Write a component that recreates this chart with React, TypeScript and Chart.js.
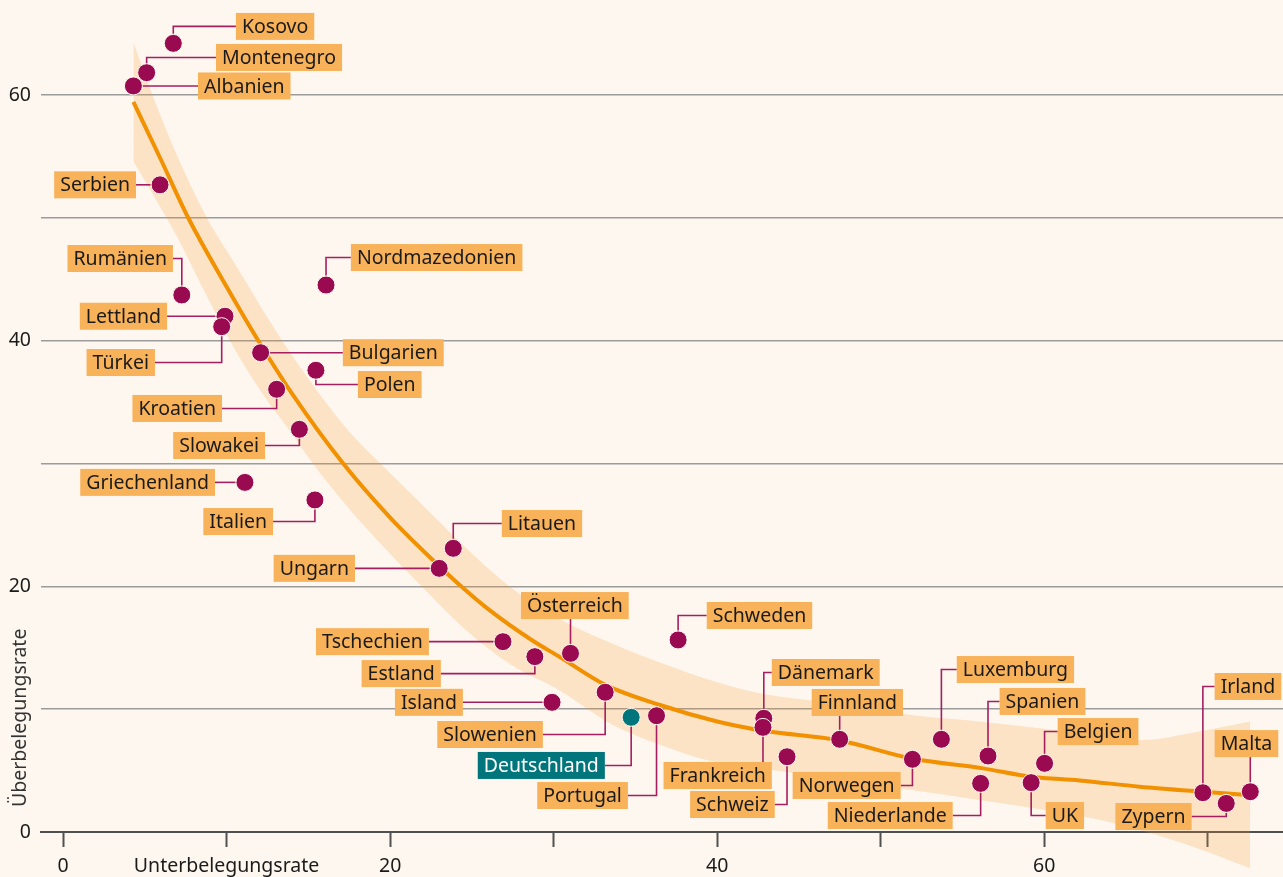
import React, { useEffect, useRef } from "react";
import { Chart, registerables } from "chart.js";

Chart.register(...registerables);

// ---------- data ----------
const COUNTRIES = [
  "Kosovo", "Montenegro", "Albanien", "Serbien", "Rumänien", "Nordmazedonien",
  "Lettland", "Türkei", "Bulgarien", "Polen", "Kroatien", "Slowakei",
  "Griechenland", "Italien", "Litauen", "Ungarn", "Österreich", "Tschechien",
  "Estland", "Island", "Slowenien", "Deutschland", "Portugal", "Schweden",
  "Dänemark", "Frankreich", "Schweiz", "Finnland", "Norwegen", "Luxemburg",
  "Spanien", "Niederlande", "Belgien", "UK", "Irland", "Zypern", "Malta",
];
// Unterbelegungsrate (x)
const UNDER = [
  6.74, 5.11, 4.3, 5.93, 7.26, 16.08,
  9.9, 9.7, 12.08, 15.46, 13.06, 14.45,
  11.12, 15.4, 23.86, 23.0, 31.03, 26.9,
  28.85, 29.9, 33.15, 34.74, 36.29, 37.61,
  42.85, 42.8, 44.27, 47.49, 51.94, 53.71,
  56.56, 56.11, 60.02, 59.2, 69.7, 71.13, 72.6,
];
// Überbelegungsrate (y)
const OVER = [
  64.22, 61.83, 60.75, 52.7, 43.73, 44.54,
  42.0, 41.15, 39.03, 37.6, 36.05, 32.79,
  28.47, 27.04, 23.1, 21.47, 14.55, 15.5,
  14.28, 10.56, 11.38, 9.34, 9.47, 15.64,
  9.26, 8.52, 6.13, 7.55, 5.92, 7.55,
  6.19, 3.96, 5.59, 4.02, 3.2, 2.33, 3.28,
];
const HIGHLIGHT = "Deutschland";

// fitted trend
const TREND_X = [4.3, 6, 7.66, 10, 11.94, 14, 17.13, 20, 23.04, 24.27, 26, 28.75, 30.38, 33.13, 36.5, 40, 42.85, 47.5, 51.9, 56.25, 59.2, 62.16, 65.83, 69.7, 72.6];
const TREND_Y = [59.45, 54.7, 50.0, 44.4, 40.0, 35.7, 30.0, 25.6, 21.6, 20.1, 18.15, 15.55, 14.25, 12.0, 10.34, 9.0, 8.24, 7.45, 5.98, 5.18, 4.5, 4.2, 3.69, 3.28, 3.0];

// confidence band
const BAND_X = [4.3, 5.5, 7, 8.8, 10.5, 12.5, 13.4, 15.5, 17.5, 19.4, 22, 24.5, 27.3, 30.4, 33.5, 36.5, 39.5, 42.6, 45.8, 48.7, 52, 56, 60, 63, 66, 69.3, 72.6];
const BAND_UPPER = [64.3, 59.9, 55.0, 50.0, 46.3, 41.9, 40.0, 36.0, 32.6, 30.0, 26.6, 23.3, 20.0, 17.3, 15.4, 13.8, 12.4, 11.3, 10.7, 10.2, 9.5, 9.0, 8.4, 7.9, 7.5, 8.15, 9.0];
const BAND_LOWER = [54.6, 51.9, 48.4, 43.6, 39.3, 35.1, 33.5, 29.6, 26.3, 23.5, 19.9, 16.6, 13.7, 11.5, 8.8, 7.1, 5.8, 5.2, 4.6, 4.0, 3.4, 2.6, 1.8, 1.1, 0.1, -1.3, -2.96];

// tick labels
const X_TICK_LABELS: Record<number, string> = { 0: "0", 10: "Unterbelegungsrate", 20: "20", 40: "40", 60: "60" };
const Y_TICK_LABELS: Record<number, string> = { 0: "0", 20: "20", 40: "40", 60: "60" };
const Y_TITLE = "Überbelegungsrate";

// ---------- layout (label anchors in data units) ----------
// [x of box edge nearest to the dot, y of box centre, which box edge sits at x]
const LABEL_LAYOUT: Record<string, [number, number, "L" | "R"]> = {
  Kosovo: [10.57, 65.6, "L"],
  Montenegro: [9.35, 63.07, "L"],
  Albanien: [8.25, 60.75, "L"],
  Serbien: [4.46, 52.7, "R"],
  "Rumänien": [6.72, 46.7, "R"],
  Nordmazedonien: [17.6, 46.78, "L"],
  Lettland: [6.36, 42.0, "R"],
  "Türkei": [5.62, 38.23, "R"],
  Bulgarien: [17.11, 39.03, "L"],
  Polen: [18.03, 36.44, "L"],
  Kroatien: [9.72, 34.49, "R"],
  Slowakei: [12.35, 31.47, "R"],
  Griechenland: [9.29, 28.47, "R"],
  Italien: [12.84, 25.28, "R"],
  Litauen: [26.83, 25.12, "L"],
  Ungarn: [17.85, 21.47, "R"],
  "Österreich": [28.0, 18.44, "L"],
  Tschechien: [22.37, 15.5, "R"],
  Estland: [23.1, 12.9, "R"],
  Island: [24.45, 10.56, "R"],
  Slowenien: [29.34, 7.94, "R"],
  Deutschland: [33.13, 5.42, "R"],
  Portugal: [34.54, 2.97, "R"],
  Schweden: [39.36, 17.63, "L"],
  "Dänemark": [43.34, 12.99, "L"],
  Frankreich: [43.34, 4.6, "R"],
  Schweiz: [43.52, 2.24, "R"],
  Finnland: [45.78, 10.55, "L"],
  Norwegen: [51.22, 3.79, "R"],
  Luxemburg: [54.65, 13.23, "L"],
  Spanien: [57.27, 10.63, "L"],
  Niederlande: [54.4, 1.34, "R"],
  Belgien: [60.82, 8.18, "L"],
  UK: [60.09, 1.34, "L"],
  Irland: [70.42, 11.85, "L"],
  Zypern: [69.01, 1.26, "R"],
  Malta: [70.42, 7.2, "L"],
};
const Y_TITLE_AT = 9.3;

// ---------- styles ----------
const W = 1283;
const H = 877;
const FONT = "'Noto Sans', 'Open Sans', sans-serif";
const FONT_SIZE = 19.5;
const BG = "#fef7f0";
const DOT = "#990a50";
const DOT_HL = "#00767c";
const BOX = "#f8b25a";
const CONNECTOR = "#a51f60";
const TEXT = "#1a1a1a";
const LINE = "#f29100";
const BAND = "rgba(249,152,30,0.2)";
const GRID = "#9b9b9b";
const AXIS = "#505050";
const DOT_R = 9;
const BOX_H = 27;
const BOX_PAD = 6;

const bgPlugin = {
  id: "bgFill",
  beforeDraw(chart: any) {
    const { ctx } = chart;
    ctx.save();
    ctx.fillStyle = BG;
    ctx.fillRect(0, 0, chart.width, chart.height);
    ctx.restore();
  },
};

const labelPlugin = {
  id: "countryLabels",
  afterDatasetsDraw(chart: any) {
    const { ctx } = chart;
    const xs = chart.scales.x;
    const ys = chart.scales.y;
    const R = DOT_R + 0.5;
    ctx.save();
    ctx.font = `${FONT_SIZE}px ${FONT}`;
    COUNTRIES.forEach((name, i) => {
      const lay = LABEL_LAYOUT[name];
      if (!lay) return;
      const px = xs.getPixelForValue(UNDER[i]);
      const py = ys.getPixelForValue(OVER[i]);
      const tw = ctx.measureText(name).width;
      const bw = tw + 2 * BOX_PAD;
      const ax = xs.getPixelForValue(lay[0]);
      const ay = ys.getPixelForValue(lay[1]);
      const left = lay[2] === "L" ? ax : ax - bw;
      const right = left + bw;
      const top = ay - BOX_H / 2;
      const bottom = ay + BOX_H / 2;

      ctx.strokeStyle = CONNECTOR;
      ctx.lineWidth = 1.6;
      ctx.beginPath();
      if (px >= left && px <= right) {
        const above = ay < py;
        ctx.moveTo(px, above ? py - R : py + R);
        ctx.lineTo(px, above ? bottom : top);
      } else {
        const edgeX = px < left ? left : right;
        const dir = px < left ? 1 : -1;
        if (Math.abs(ay - py) < 4) {
          ctx.moveTo(px + dir * R, py);
          ctx.lineTo(edgeX, py);
        } else {
          const above = ay < py;
          ctx.moveTo(px, above ? py - R : py + R);
          ctx.lineTo(px, ay);
          ctx.lineTo(edgeX, ay);
        }
      }
      ctx.stroke();

      const hl = name === HIGHLIGHT;
      ctx.fillStyle = hl ? DOT_HL : BOX;
      ctx.fillRect(left, top, bw, BOX_H);
      ctx.fillStyle = hl ? "#ffffff" : TEXT;
      ctx.textAlign = "left";
      ctx.textBaseline = "middle";
      ctx.fillText(name, left + BOX_PAD, ay + 1);
    });

    // y-axis title
    ctx.save();
    ctx.translate(20, ys.getPixelForValue(Y_TITLE_AT));
    ctx.rotate(-Math.PI / 2);
    ctx.textAlign = "center";
    ctx.textBaseline = "middle";
    ctx.fillStyle = "#333333";
    ctx.fillText(Y_TITLE, 0, 0);
    ctx.restore();

    ctx.restore();
  },
};

const zeroPad = (s: any) => {
  s.paddingTop = 0;
  s.paddingBottom = 0;
  s.paddingLeft = 0;
  s.paddingRight = 0;
};

export default function App() {
  const canvasRef = useRef<HTMLCanvasElement | null>(null);

  useEffect(() => {
    document.body.style.margin = "0";
    document.body.style.background = BG;
    const canvas = canvasRef.current;
    if (!canvas) return;

    Chart.defaults.font.family = FONT;
    Chart.defaults.font.size = FONT_SIZE;
    Chart.defaults.color = TEXT;

    const points = COUNTRIES.map((_, i) => ({ x: UNDER[i], y: OVER[i] }));
    const trend = TREND_X.map((x, i) => ({ x, y: TREND_Y[i] }));
    const upper = BAND_X.map((x, i) => ({ x, y: BAND_UPPER[i] }));
    const lower = BAND_X.map((x, i) => ({ x, y: BAND_LOWER[i] }));

    const chart = new Chart(canvas, {
      type: "scatter",
      data: {
        datasets: [
          {
            type: "scatter",
            label: "Länder",
            data: points,
            order: 0,
            pointRadius: DOT_R,
            pointHoverRadius: DOT_R,
            pointBackgroundColor: COUNTRIES.map((c) => (c === HIGHLIGHT ? DOT_HL : DOT)),
            pointBorderColor: BG,
            pointBorderWidth: 1,
          } as any,
          {
            type: "line",
            label: "Trend",
            data: trend,
            order: 1,
            borderColor: LINE,
            borderWidth: 4,
            pointRadius: 0,
            fill: false,
            cubicInterpolationMode: "monotone",
          } as any,
          {
            type: "line",
            label: "Obergrenze",
            data: upper,
            order: 2,
            borderWidth: 0,
            borderColor: "rgba(0,0,0,0)",
            backgroundColor: BAND,
            pointRadius: 0,
            fill: "+1",
            cubicInterpolationMode: "monotone",
          } as any,
          {
            type: "line",
            label: "Untergrenze",
            data: lower,
            order: 3,
            borderWidth: 0,
            borderColor: "rgba(0,0,0,0)",
            pointRadius: 0,
            fill: false,
            cubicInterpolationMode: "monotone",
          } as any,
        ],
      },
      options: {
        animation: false,
        responsive: false,
        maintainAspectRatio: false,
        layout: { padding: 0, autoPadding: false },
        plugins: {
          legend: { display: false },
          tooltip: { enabled: false },
          title: { display: false },
        },
        scales: {
          x: {
            type: "linear",
            position: { y: 0 },
            min: -1.35,
            max: 74.6,
            afterFit: (s: any) => {
              zeroPad(s);
            },
            grid: {
              drawOnChartArea: false,
              drawTicks: true,
              tickLength: 14,
              tickColor: AXIS,
              tickWidth: 2,
            },
            border: { display: true, color: AXIS, width: 2 },
            ticks: {
              stepSize: 10,
              includeBounds: false,
              autoSkip: false,
              maxRotation: 0,
              minRotation: 0,
              padding: 9,
              color: TEXT,
              font: { size: FONT_SIZE, family: FONT },
              callback: (v: any) => X_TICK_LABELS[Math.round(Number(v))] ?? "",
            },
          } as any,
          y: {
            type: "linear",
            min: -3.664,
            max: 67.75,
            afterFit: (s: any) => {
              s.width = 41;
              zeroPad(s);
            },
            grid: {
              drawTicks: false,
              color: (c: any) => (c.tick && c.tick.value === 0 ? AXIS : GRID),
              lineWidth: (c: any) => (c.tick && c.tick.value === 0 ? 2 : 1.5),
            },
            border: { display: false },
            ticks: {
              stepSize: 10,
              includeBounds: false,
              autoSkip: false,
              padding: 10,
              color: TEXT,
              font: { size: FONT_SIZE, family: FONT },
              callback: (v: any) => Y_TICK_LABELS[Math.round(Number(v))] ?? "",
            },
          },
        },
      },
      plugins: [bgPlugin, labelPlugin],
    });

    return () => chart.destroy();
  }, []);

  return (
    <div style={{ width: W, height: H, background: BG }}>
      <canvas ref={canvasRef} width={W} height={H} style={{ display: "block", width: W, height: H }} />
    </div>
  );
}
